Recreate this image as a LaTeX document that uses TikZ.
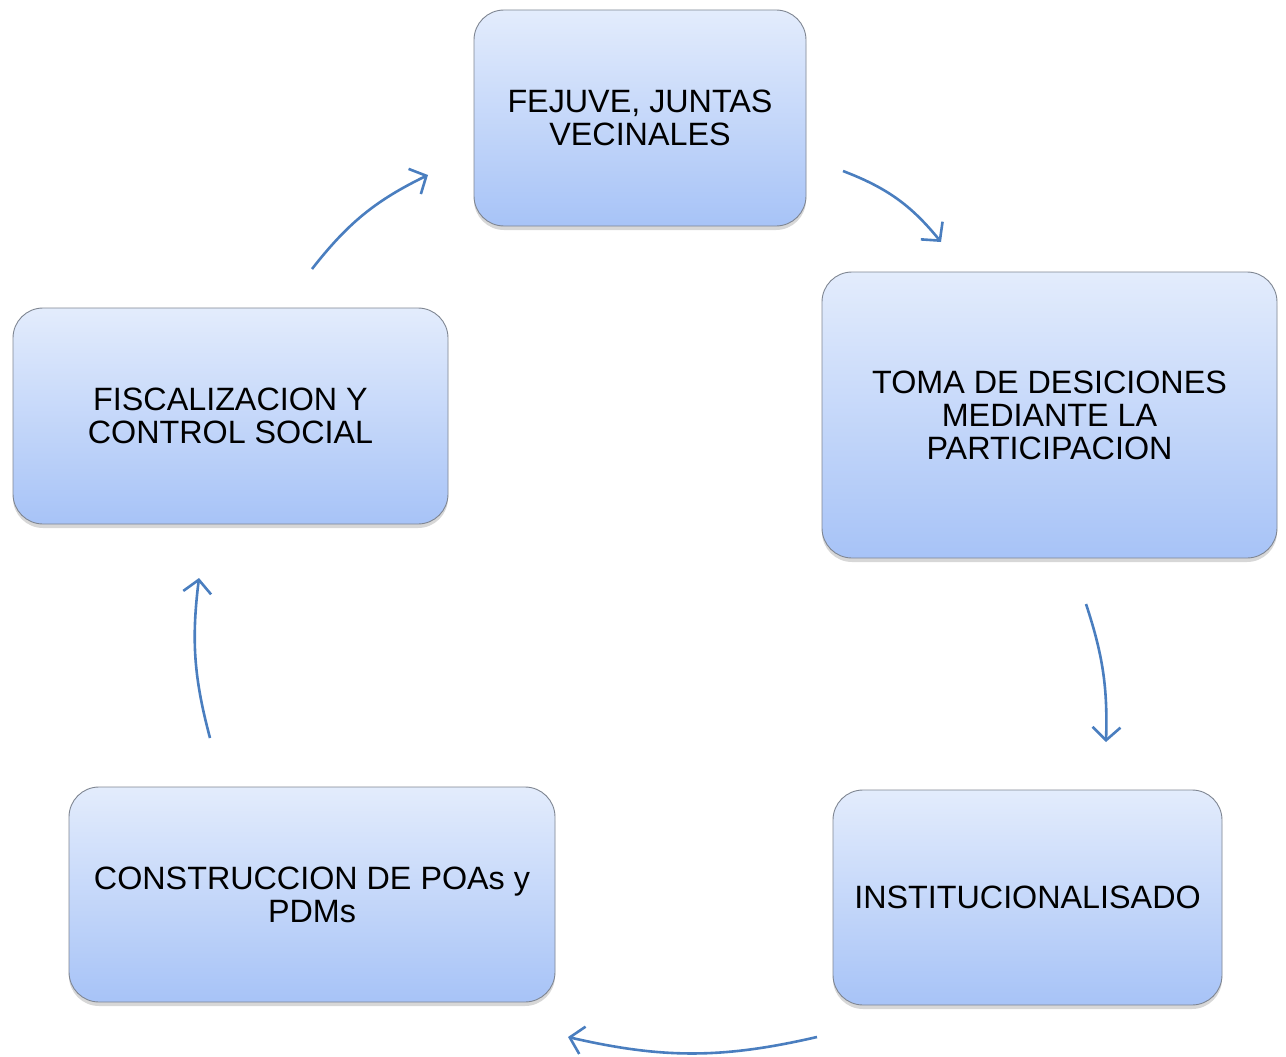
\documentclass[tikz,border=0pt]{standalone}
\usepackage{fontspec}
\setmainfont{Liberation Sans}
\usetikzlibrary{arrows.meta,shadows}
\definecolor{boxtop}{HTML}{E3ECFC}
\definecolor{boxbot}{HTML}{A7C3F7}
\definecolor{boxline}{HTML}{7F8692}
\definecolor{arrowc}{HTML}{4A7EBF}
\tikzset{
  stepbox/.style={draw=boxline, line width=0.9pt, rounded corners=30pt,
    top color=boxtop, bottom color=boxbot, align=center,
    font=\fontsize{32.3}{33}\selectfont, inner sep=0pt,
    drop shadow={shadow xshift=0pt, shadow yshift=-4pt, opacity=0.45, fill=gray!70}},
  flow/.style={draw=arrowc, line width=2.6pt,
    -{Straight Barb[length=13pt,width=28pt,line width=2.6pt]}}
}
\begin{document}
\begin{tikzpicture}[x=1pt,y=-1pt]
\useasboundingbox (0,0) rectangle (1286,1057);
\node[stepbox, minimum width=332pt, minimum height=216pt] (fej) at (640,118) {FEJUVE, JUNTAS\\VECINALES};
\node[stepbox, minimum width=455pt, minimum height=286pt] (toma) at (1049.5,415) {TOMA DE DESICIONES\\MEDIANTE LA\\PARTICIPACION};
\node[stepbox, minimum width=389pt, minimum height=215pt] (inst) at (1027.5,897.5) {INSTITUCIONALISADO};
\node[stepbox, minimum width=486pt, minimum height=215pt] (poa) at (312,894.5) {CONSTRUCCION DE POAs y\\PDMs};
\node[stepbox, minimum width=435pt, minimum height=216pt] (fis) at (230.5,416) {FISCALIZACION Y\\CONTROL SOCIAL};
\coordinate (a1s) at (843,171);
\coordinate (a1e) at (941,242);
\coordinate (a2s) at (1086,604);
\coordinate (a2e) at (1106,742);
\coordinate (a3s) at (817,1037);
\coordinate (a3e) at (568,1037);
\coordinate (a4s) at (210,738);
\coordinate (a4e) at (199,578);
\coordinate (a5s) at (312,269);
\coordinate (a5e) at (428,175);
\draw[flow] (a1s) to[bend left=15] (a1e);
\draw[flow] (a2s) to[bend left=10] (a2e);
\draw[flow] (a3s) to[bend left=13] (a3e);
\draw[flow] (a4s) to[bend left=11] (a4e);
\draw[flow] (a5s) to[bend left=13] (a5e);
\end{tikzpicture}
\end{document}
